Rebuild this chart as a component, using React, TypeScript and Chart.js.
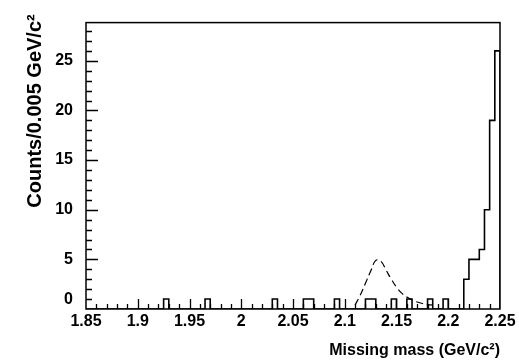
import React, { useEffect, useRef } from 'react';
import { Chart, registerables } from 'chart.js';

Chart.register(...registerables);

// Histogram: 80 bins of 0.005 GeV/c^2 from 1.85 to 2.25
const binStart = 1.85;
const binWidth = 0.005;
const binCounts = [
  0, 0, 0, 0, 0, 0, 0, 0, 0, 0,
  0, 0, 0, 0, 0, 1, 0, 0, 0, 0,
  0, 0, 0, 1, 0, 0, 0, 0, 0, 0,
  0, 0, 0, 0, 0, 0, 1, 0, 0, 0,
  0, 0, 1, 1, 0, 0, 0, 0, 1, 0,
  0, 0, 0, 0, 1, 1, 0, 0, 0, 1,
  0, 0, 1, 0, 0, 0, 1, 0, 0, 1,
  0, 0, 0, 3, 5, 5, 6, 10, 19, 26,
];

// Dashed expected-signal curve
const curveMass = [2.11, 2.115, 2.12, 2.125, 2.13, 2.135, 2.14, 2.145, 2.15, 2.155, 2.16, 2.165, 2.17, 2.175, 2.18, 2.185];
const curveCounts = [0.4, 1.4, 2.6, 3.8, 4.9, 4.8, 3.9, 3.0, 2.2, 1.6, 1.2, 0.9, 0.7, 0.55, 0.45, 0.4];

const xTickLabels = ['1.85', '1.9', '1.95', '2', '2.05', '2.1', '2.15', '2.2', '2.25'];
const yTickLabels = ['0', '5', '10', '15', '20', '25'];

const xMin = 1.85;
const xMax = 2.25;
const yMin = 0;
const yMax = 28.85;

const xTitle = 'Missing mass (GeV/c²)';
const yTitle = 'Counts/0.005 GeV/c²';

const FONT = '"Liberation Sans", Arial, Helvetica, sans-serif';

export default function App() {
  const ref = useRef<HTMLCanvasElement | null>(null);

  useEffect(() => {
    if (!ref.current) return;

    const histPoints = binCounts.map((c, i) => ({ x: binStart + i * binWidth, y: c }));
    histPoints.push({ x: binStart + binCounts.length * binWidth, y: 0 });
    const curvePoints = curveMass.map((m, i) => ({ x: m, y: curveCounts[i] }));

    const framePlugin = {
      id: 'frameTicks',
      afterDatasetsDraw(chart: any) {
        const ctx = chart.ctx;
        const { left, right, top, bottom } = chart.chartArea;
        const xs = chart.scales.x;
        const ys = chart.scales.y;
        ctx.save();
        ctx.strokeStyle = '#000';
        ctx.lineWidth = 1.5;
        ctx.strokeRect(left, top, right - left, bottom - top);
        ctx.lineWidth = 1.3;
        ctx.beginPath();
        for (let k = 1; k < 40; k++) {
          const v = xMin + k * 0.01;
          const px = Math.round(xs.getPixelForValue(v)) + 0.5;
          const len = k % 5 === 0 ? 10 : 5;
          ctx.moveTo(px, bottom);
          ctx.lineTo(px, bottom - len);
        }
        for (let k = 1; k <= 28; k++) {
          const py = Math.round(ys.getPixelForValue(k)) + 0.5;
          const len = k % 5 === 0 ? 12 : 6;
          ctx.moveTo(left, py);
          ctx.lineTo(left + len, py);
        }
        ctx.stroke();

        ctx.fillStyle = '#000';
        ctx.font = `bold 16px ${FONT}`;
        ctx.textAlign = 'right';
        ctx.textBaseline = 'alphabetic';
        ctx.fillText(xTitle, right, 355);

        ctx.font = `bold 20px ${FONT}`;
        ctx.translate(41, 111);
        ctx.rotate(-Math.PI / 2);
        ctx.textAlign = 'center';
        ctx.fillText(yTitle, 0, 0);
        ctx.restore();
      },
    };

    const chart = new Chart(ref.current, {
      type: 'line',
      data: {
        datasets: [
          {
            label: 'data',
            data: histPoints,
            stepped: true,
            borderColor: '#000',
            borderWidth: 1.6,
            pointRadius: 0,
            fill: false,
          },
          {
            label: 'signal',
            data: curvePoints,
            borderColor: '#000',
            borderWidth: 1.2,
            borderDash: [7, 4],
            tension: 0.4,
            pointRadius: 0,
            fill: false,
          },
        ],
      },
      options: {
        animation: false,
        responsive: false,
        maintainAspectRatio: false,
        layout: { padding: { left: 0, right: 19, top: 12, bottom: 0 } },
        plugins: {
          legend: { display: false },
          tooltip: { enabled: false },
        },
        scales: {
          x: {
            type: 'linear',
            min: xMin,
            max: xMax,
            grid: { display: false, drawTicks: false },
            border: { display: false },
            afterFit: (s: any) => { s.height = 55; },
            ticks: {
              stepSize: 0.05,
              includeBounds: false,
              autoSkip: false,
              maxRotation: 0,
              padding: 3,
              color: '#000',
              font: { family: FONT, size: 16, weight: 'bold' },
              callback: (v: any) => {
                const i = Math.round((Number(v) - xMin) / 0.05);
                return xTickLabels[i] ?? '';
              },
            },
          },
          y: {
            type: 'linear',
            min: yMin,
            max: yMax,
            grid: { display: false, drawTicks: false },
            border: { display: false },
            afterFit: (s: any) => { s.width = 86; },
            ticks: {
              stepSize: 5,
              includeBounds: false,
              padding: 13,
              color: '#000',
              font: { family: FONT, size: 16, weight: 'bold' },
              callback: (v: any) => {
                const i = Math.round(Number(v) / 5);
                if (Math.abs(Number(v) - i * 5) > 1e-6) return '';
                const lab = yTickLabels[i] ?? '';
                return i === 0 ? [lab, ''] : lab;
              },
            },
          },
        },
      },
      plugins: [framePlugin],
    });

    return () => chart.destroy();
  }, []);

  return (
    <div style={{ position: 'absolute', left: 0, top: 0, width: 519, height: 364, background: '#fff' }}>
      <canvas ref={ref} width={519} height={364} style={{ display: 'block', width: 519, height: 364 }} />
    </div>
  );
}
